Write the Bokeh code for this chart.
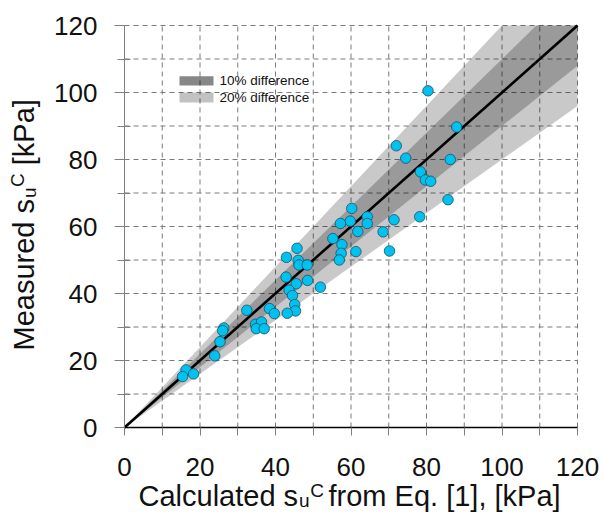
from bokeh.plotting import figure
from bokeh.models import Range1d, FixedTicker, Label, BoxAnnotation
from bokeh.embed import file_html
from bokeh.resources import INLINE

# ---- data ----
calc = [80.4, 88.0, 72.0, 74.5, 86.3, 78.4, 79.7, 81.1, 85.7, 60.2, 64.3, 59.8, 57.2,
        64.3, 78.2, 71.4, 61.8, 68.5, 55.2, 57.6, 57.4, 61.3, 56.9, 70.2, 45.7, 42.9,
        46.0, 46.2, 48.4, 42.8, 48.5, 45.5, 51.9, 43.6, 44.5, 45.1, 45.3, 43.1, 32.4,
        38.4, 39.7, 34.7, 36.3, 34.9, 37.0, 26.3, 26.0, 25.3, 23.9, 16.3, 15.4, 18.3]
meas = [100.5, 89.7, 84.1, 80.4, 80.0, 76.3, 73.9, 73.5, 68.0, 65.4, 62.9, 61.6, 60.9,
        60.9, 62.9, 62.0, 58.5, 58.4, 56.4, 54.6, 52.0, 52.5, 50.0, 52.7, 53.5, 50.8,
        49.9, 48.5, 48.5, 44.9, 43.9, 42.9, 41.9, 41.0, 39.4, 36.7, 34.8, 34.1, 35.0,
        35.5, 34.0, 30.8, 31.5, 29.5, 29.5, 29.7, 28.9, 25.6, 21.4, 17.2, 15.2, 16.0]

axis_min, axis_max = 0, 120
major_ticks = [0, 20, 40, 60, 80, 100, 120]
minor_ticks = [10, 30, 50, 70, 90, 110]
grid_ticks = [10, 20, 30, 40, 50, 60, 70, 80, 90, 100, 110, 120]
band_inner = 0.10
band_outer = 0.20
legend_labels = ["10% difference", "20% difference"]

FONT = "Liberation Sans"

# ---- canvas geometry: the frame fills the canvas; the data box sits inside it ----
W, H = 604, 512
box_l, box_r, box_t, box_b = 124, 577, 25, 427   # pixel edges of the 0..120 box
sx = (box_r - box_l) / (axis_max - axis_min)
sy = (box_b - box_t) / (axis_max - axis_min)
x_range = Range1d(axis_min - box_l / sx, axis_max + (W - box_r) / sx)
y_range = Range1d(axis_min - (H - box_b) / sy, axis_max + box_t / sy)

p = figure(width=W, height=H, output_backend="svg", toolbar_location=None,
           x_range=x_range, y_range=y_range,
           min_border=0, min_border_left=0, min_border_right=0,
           min_border_top=0, min_border_bottom=0)
p.outline_line_color = None
p.background_fill_color = "white"
p.border_fill_color = "white"
p.xgrid.grid_line_color = None
p.ygrid.grid_line_color = None

# dashed grid inside the data box
n = len(grid_ticks)
p.segment(x0=grid_ticks, y0=[axis_min] * n, x1=grid_ticks, y1=[axis_max] * n,
          line_color="#7a7a7a", line_dash="5 4", line_width=1)
p.segment(x0=[axis_min] * n, y0=grid_ticks, x1=[axis_max] * n, y1=grid_ticks,
          line_color="#7a7a7a", line_dash="5 4", line_width=1)

# difference bands, clipped to the data box
def band(f):
    xs = [axis_min, axis_max, axis_max, axis_max / (1 + f)]
    ys = [axis_min, axis_max * (1 - f), axis_max, axis_max]
    return xs, ys

bx, by = band(band_outer)
p.patch(bx, by, fill_color="black", fill_alpha=0.21, line_color=None)
bx, by = band(band_inner)
p.patch(bx, by, fill_color="black", fill_alpha=0.23, line_color=None)

# 1:1 line
line_x = [axis_min, axis_max]
p.line(line_x, line_x, line_color="black", line_width=2.6)

# points
p.scatter(calc, meas, size=10.5, fill_color="#00c2ef", line_color="#1d4e66",
          line_width=0.8)

# axes through the origin
p.xaxis.fixed_location = axis_min
p.yaxis.fixed_location = axis_min
p.xaxis.bounds = (axis_min, axis_max)
p.yaxis.bounds = (axis_min, axis_max)
p.xaxis.ticker = FixedTicker(ticks=major_ticks, minor_ticks=minor_ticks)
p.yaxis.ticker = FixedTicker(ticks=major_ticks, minor_ticks=minor_ticks)
for ax in (p.xaxis, p.yaxis):
    ax.major_label_text_font = FONT
    ax.major_label_text_font_size = "26px"
    ax.major_label_text_color = "#111111"
    ax.major_tick_line_color = "#808080"
    ax.minor_tick_line_color = "#808080"
    ax.major_tick_in = 0
p.xaxis.axis_line_color = "black"
p.xaxis.axis_line_width = 1.5
p.xaxis.major_tick_out = 8
p.xaxis.minor_tick_out = 8
p.xaxis.minor_tick_in = 0
p.xaxis.major_label_standoff = 22
p.yaxis.axis_line_color = "#808080"
p.yaxis.axis_line_width = 1
p.yaxis.major_tick_out = 10
p.yaxis.minor_tick_out = 7
p.yaxis.minor_tick_in = 6
p.yaxis.major_label_standoff = 17

# axis titles with sub/superscripts (screen px, origin bottom-left of canvas,
# anchors are the vertical middle of each text piece)
def lab(text, x, y, size, angle=0.0):
    p.add_layout(Label(x=x, y=y, x_units="screen", y_units="screen", text=text,
                       text_font=FONT, text_font_size=size, text_color="#111111",
                       text_align="left", text_baseline="middle", angle=angle))

tfs, tsm = 29, 19
lab("Calculated s", 138, 17, f"{tfs}px")
lab("u", 298.6, 11.6, f"{tsm}px")
lab("C", 309.7, 22.2, f"{tsm}px")
lab("from Eq. [1], [kPa]", 328, 17, f"{tfs}px")

ang = 1.5707963267948966
lab("Measured s", 23, 162, f"{tfs}px", ang)
lab("u", 29.4, 314.5, f"{tsm}px", ang)
lab("C", 17.4, 325.6, f"{tsm}px", ang)
lab("[kPa]", 23, 347.3, f"{tfs}px", ang)

# legend
p.add_layout(BoxAnnotation(left=179, right=213, bottom=427, top=436.3,
                           left_units="screen", right_units="screen",
                           bottom_units="screen", top_units="screen",
                           fill_color="black", fill_alpha=0.47, line_color=None))
p.add_layout(BoxAnnotation(left=179, right=213, bottom=410, top=420,
                           left_units="screen", right_units="screen",
                           bottom_units="screen", top_units="screen",
                           fill_color="black", fill_alpha=0.24, line_color=None))
for txt, yy in zip(legend_labels, [431.7, 415]):
    p.add_layout(Label(x=219, y=yy, x_units="screen", y_units="screen", text=txt,
                       text_font=FONT, text_font_size="13.5px", text_color="#111111",
                       text_baseline="middle"))

open("out.html", "w").write(file_html(p, INLINE))
